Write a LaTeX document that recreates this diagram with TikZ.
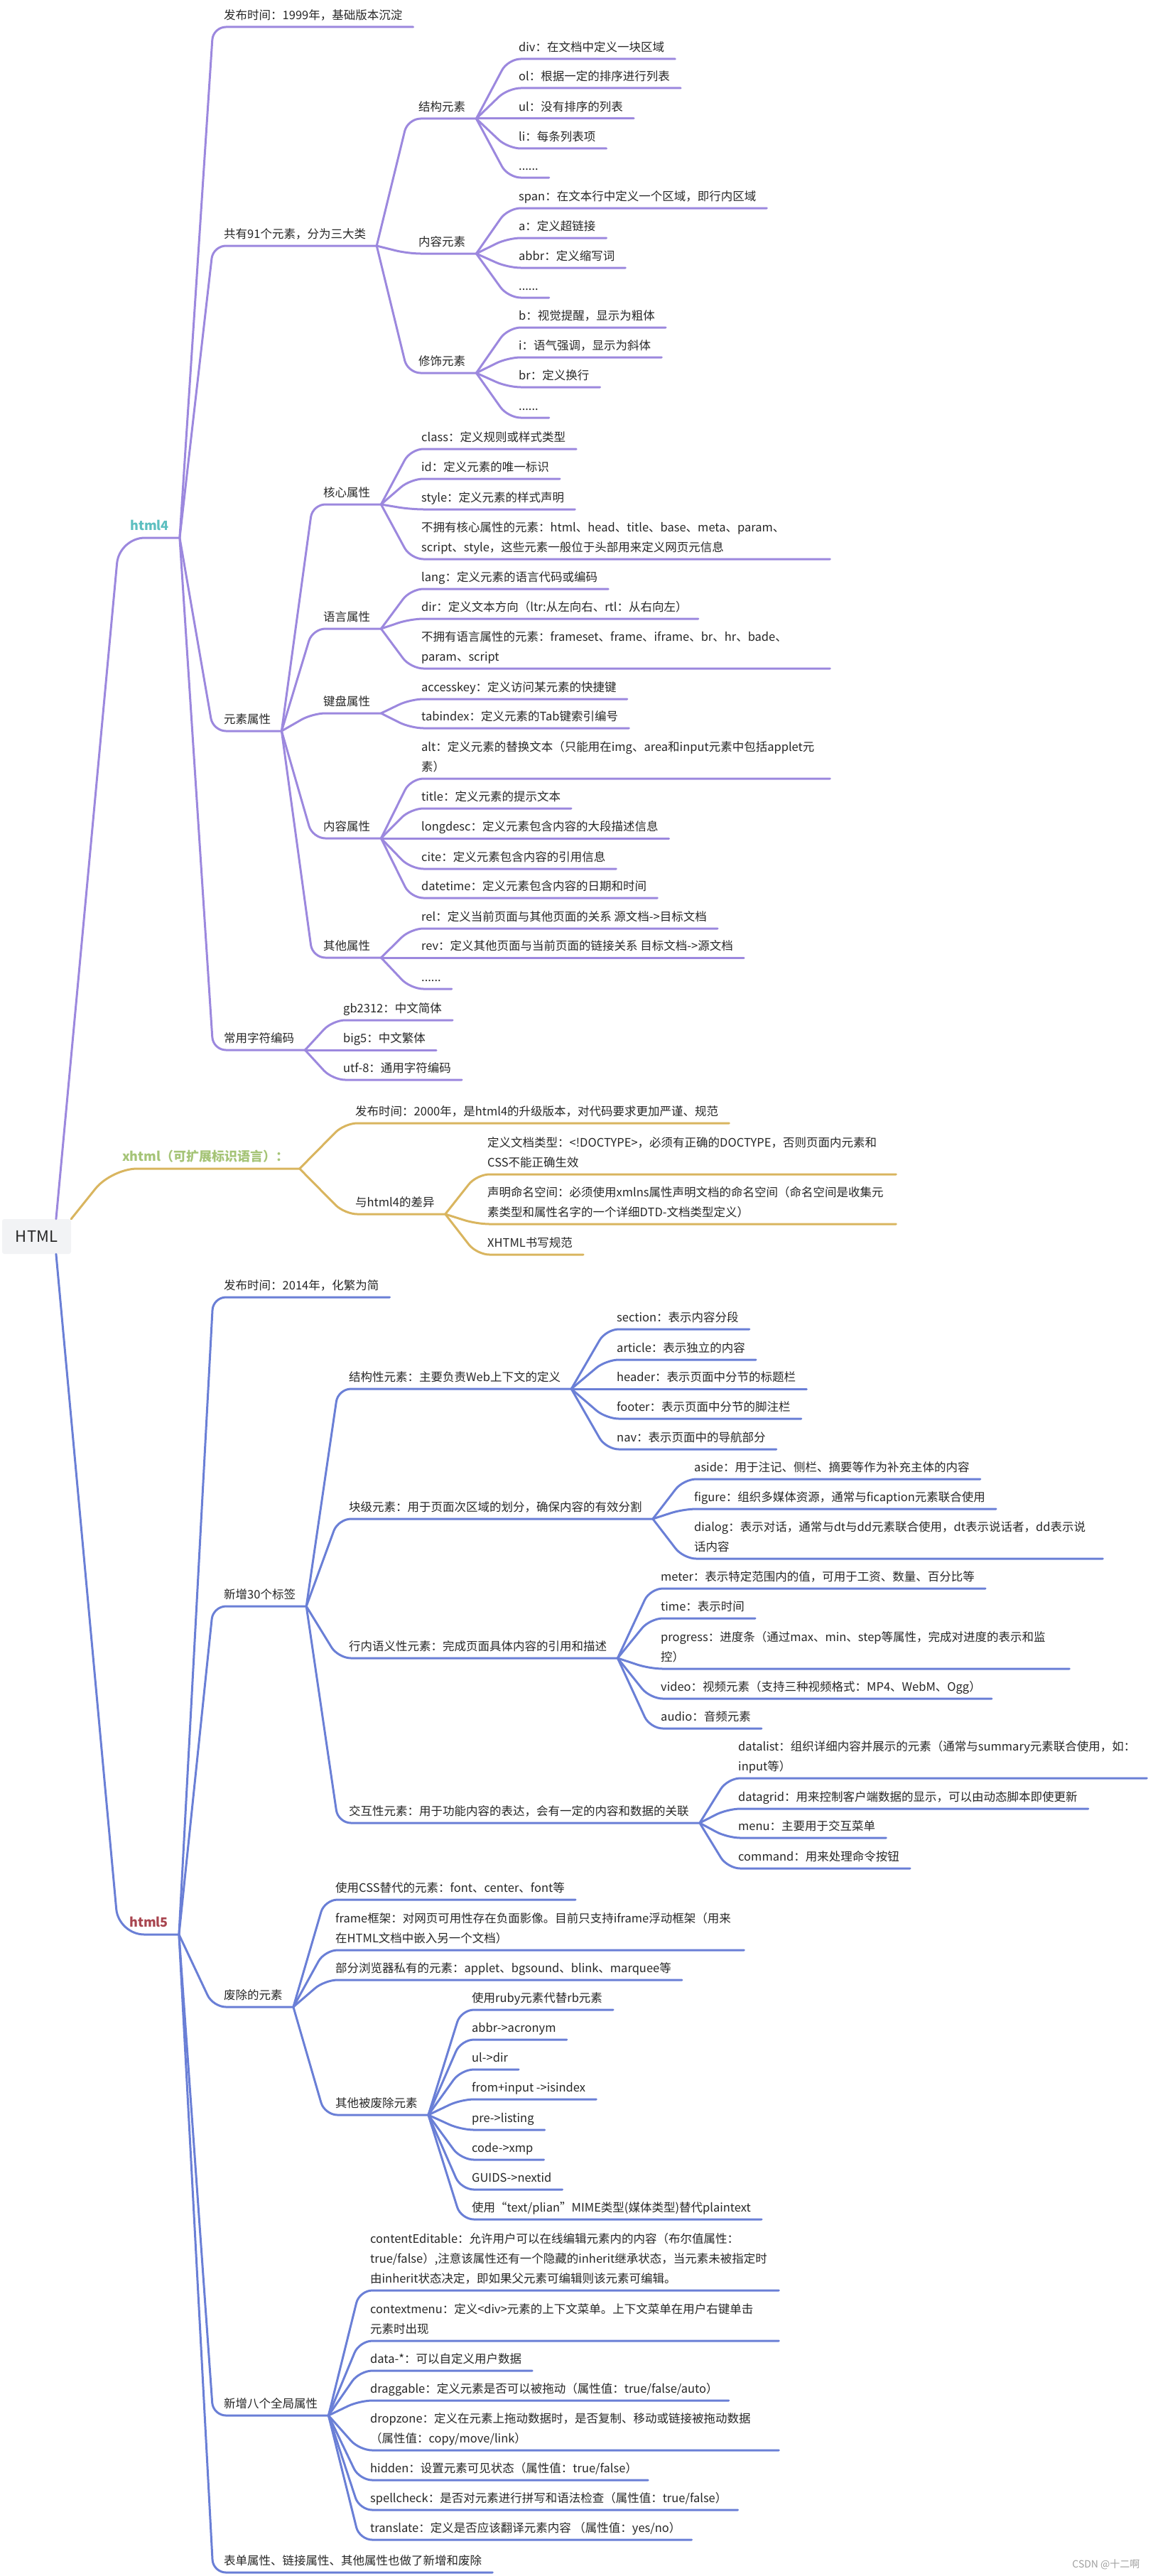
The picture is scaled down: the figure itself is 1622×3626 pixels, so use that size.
\documentclass[tikz,border=0pt]{standalone}
\usepackage{fontspec}
\setmainfont{Noto Sans CJK SC}
\usetikzlibrary{calc}
\definecolor{ink}{HTML}{262626}
\definecolor{line4}{HTML}{9C88DE}
\definecolor{linex}{HTML}{D9B55F}
\definecolor{line5}{HTML}{6A7FD6}
\definecolor{lab4}{HTML}{5DBFC0}
\definecolor{labx}{HTML}{A5C477}
\definecolor{lab5}{HTML}{A8454F}
\definecolor{rootbg}{HTML}{F2F3F5}
\tikzset{
  topic/.style={anchor=south west, inner xsep=15pt, inner ysep=6pt, text depth=4pt,
    font=\fontsize{16.5}{28}\selectfont, text=ink},
  wrap/.style={anchor=south west, inner xsep=15pt, inner ysep=6pt, text width=560pt, align=left,
    font=\fontsize{16.5}{28}\selectfont, text=ink, execute at end node={\rule[-4pt]{0pt}{4pt}}},
  branch/.style={topic, font=\fontsize{18}{24}\selectfont\bfseries, text=#1},
  rootbox/.style={fill=rootbg, rounded corners=3pt, minimum width=97pt, minimum height=49pt,
    inner sep=0pt, font=\fontsize{22}{26}\selectfont, text=ink},
  link/.style={draw=#1, line width=3pt, rounded corners=18pt, line cap=round},
  rootlink/.style={link=#1, rounded corners=36pt},
}

\begin{document}
\begin{tikzpicture}[x=1pt,y=-1pt]
\useasboundingbox (0,0) rectangle (1622,3626);

% root
\node[rootbox] (html) at (51.5,1740.5) {HTML};

% ---------------- html4
\node[branch=lab4] (h4) at (168,757) {html4};
\node[topic] (h4time) at (300,38) {发布时间：1999年，基础版本沉淀};
\node[topic] (h4elem) at (300,346) {共有91个元素，分为三大类};
\node[topic] (struct) at (574,167) {结构元素};
\node[topic] (div) at (715,83) {div：在文档中定义一块区域};
\node[topic] (ol) at (715,124) {ol：根据一定的排序进行列表};
\node[topic] (ul) at (715,167) {ul：没有排序的列表};
\node[topic] (li) at (715,209) {li：每条列表项};
\node[topic] (sdots) at (715,250) {......};
\node[topic] (content) at (574,357) {内容元素};
\node[topic] (span) at (715,293) {span：在文本行中定义一个区域，即行内区域};
\node[topic] (ahref) at (715,335) {a：定义超链接};
\node[topic] (abbr) at (715,377) {abbr：定义缩写词};
\node[topic] (cdots) at (715,419) {......};
\node[topic] (deco) at (574,525) {修饰元素};
\node[topic] (bold) at (715,461) {b：视觉提醒，显示为粗体};
\node[topic] (ital) at (715,503) {i：语气强调，显示为斜体};
\node[topic] (brk) at (715,545) {br：定义换行};
\node[topic] (ddots) at (715,588) {......};

\node[topic] (h4attr) at (300,1029) {元素属性};
\node[topic] (coreattr) at (440,710) {核心属性};
\node[topic] (class) at (578,632) {class：定义规则或样式类型};
\node[topic] (id) at (578,674) {id：定义元素的唯一标识};
\node[topic] (style) at (578,717) {style：定义元素的样式声明};
\node[wrap] (nocore) at (578,787) {不拥有核心属性的元素：html、head、title、base、meta、param、\\script、style，这些元素一般位于头部用来定义网页元信息};
\node[topic] (langattr) at (440,885) {语言属性};
\node[topic] (langl) at (578,829) {lang：定义元素的语言代码或编码};
\node[topic] (dir) at (578,871) {dir：定义文本方向（ltr:从左向右、rtl：从右向左）};
\node[wrap] (nolang) at (578,941) {不拥有语言属性的元素：frameset、frame、iframe、br、hr、bade、\\param、script};
\node[topic] (keyattr) at (440,1004) {键盘属性};
\node[topic] (accesskey) at (578,984) {accesskey：定义访问某元素的快捷键};
\node[topic] (tabindex) at (578,1025) {tabindex：定义元素的Tab键索引编号};
\node[topic] (contattr) at (440,1180) {内容属性};
\node[wrap] (alt) at (578,1096) {alt：定义元素的替换文本（只能用在img、area和input元素中包括applet元\\素）};
\node[topic] (title) at (578,1138) {title：定义元素的提示文本};
\node[topic] (longdesc) at (578,1180) {longdesc：定义元素包含内容的大段描述信息};
\node[topic] (cite) at (578,1223) {cite：定义元素包含内容的引用信息};
\node[topic] (datetime) at (578,1264) {datetime：定义元素包含内容的日期和时间};
\node[topic] (otherattr) at (440,1348) {其他属性};
\node[topic] (rel) at (578,1307) {rel：定义当前页面与其他页面的关系 源文档->目标文档};
\node[topic] (rev) at (578,1348) {rev：定义其他页面与当前页面的链接关系 目标文档->源文档};
\node[topic] (odots) at (578,1392) {......};

\node[topic] (h4code) at (300,1478) {常用字符编码};
\node[topic] (gb) at (468,1436) {gb2312：中文简体};
\node[topic] (big) at (468,1478) {big5：中文繁体};
\node[topic] (utf) at (468,1520) {utf-8：通用字符编码};

% ---------------- xhtml
\node[branch=labx] (xh) at (157,1645) {xhtml（可扩展标识语言）：};
\node[topic] (xhtime) at (485,1581) {发布时间：2000年，是html4的升级版本，对代码要求更加严谨、规范};
\node[topic] (xhdiff) at (485,1709) {与html4的差异};
\node[wrap] (doctype) at (671,1653) {定义文档类型：<!DOCTYPE>，必须有正确的DOCTYPE，否则页面内元素和\\CSS不能正确生效};
\node[wrap] (xmlns) at (671,1723) {声明命名空间：必须使用xmlns属性声明文档的命名空间（命名空间是收集元\\素类型和属性名字的一个详细DTD-文档类型定义）};
\node[topic] (xhspec) at (671,1766) {XHTML书写规范};

% ---------------- html5
\node[branch=lab5] (h5) at (167,2723) {html5};
\node[topic] (h5time) at (300,1826) {发布时间：2014年，化繁为简};
\node[topic] (h5tags) at (300,2261) {新增30个标签};
\node[topic] (structel) at (476,1955) {结构性元素：主要负责Web上下文的定义};
\node[topic] (section) at (853,1871) {section：表示内容分段};
\node[topic] (article) at (853,1914) {article：表示独立的内容};
\node[topic] (header) at (853,1955) {header：表示页面中分节的标题栏};
\node[topic] (footer) at (853,1997) {footer：表示页面中分节的脚注栏};
\node[topic] (nav) at (853,2040) {nav：表示页面中的导航部分};
\node[topic] (blockel) at (476,2138) {块级元素：用于页面次区域的划分，确保内容的有效分割};
\node[topic] (aside) at (962,2082) {aside：用于注记、侧栏、摘要等作为补充主体的内容};
\node[topic] (figure) at (962,2124) {figure：组织多媒体资源，通常与ficaption元素联合使用};
\node[wrap] (dialog) at (962,2194) {dialog：表示对话，通常与dt与dd元素联合使用，dt表示说话者，dd表示说\\话内容};
\node[topic] (inlineel) at (476,2334) {行内语义性元素：完成页面具体内容的引用和描述};
\node[topic] (meter) at (915,2236) {meter：表示特定范围内的值，可用于工资、数量、百分比等};
\node[topic] (time) at (915,2278) {time：表示时间};
\node[wrap] (progress) at (915,2349) {progress：进度条（通过max、min、step等属性，完成对进度的表示和监\\控）};
\node[topic] (video) at (915,2391) {video：视频元素（支持三种视频格式：MP4、WebM、Ogg）};
\node[topic] (audio) at (915,2433) {audio：音频元素};
\node[topic] (interel) at (476,2566) {交互性元素：用于功能内容的表达，会有一定的内容和数据的关联};
\node[wrap] (datalist) at (1024,2503) {datalist：组织详细内容并展示的元素（通常与summary元素联合使用，如：\\input等）};
\node[topic] (datagrid) at (1024,2546) {datagrid：用来控制客户端数据的显示，可以由动态脚本即使更新};
\node[topic] (menu) at (1024,2587) {menu：主要用于交互菜单};
\node[topic] (command) at (1024,2630) {command：用来处理命令按钮};

\node[topic] (h5drop) at (300,2825) {废除的元素};
\node[topic] (cssrep) at (457,2674) {使用CSS替代的元素：font、center、font等};
\node[wrap] (frame) at (457,2745) {frame框架：对网页可用性存在负面影像。目前只支持iframe浮动框架（用来\\在HTML文档中嵌入另一个文档）};
\node[topic] (priv) at (457,2787) {部分浏览器私有的元素：applet、bgsound、blink、marquee等};
\node[topic] (otherdrop) at (457,2977) {其他被废除元素};
\node[topic] (ruby) at (649,2829) {使用ruby元素代替rb元素};
\node[topic] (acronym) at (649,2871) {abbr->acronym};
\node[topic] (uldir) at (649,2913) {ul->dir};
\node[topic] (isindex) at (649,2955) {from+input ->isindex};
\node[topic] (listing) at (649,2998) {pre->listing};
\node[topic] (xmp) at (649,3040) {code->xmp};
\node[topic] (nextid) at (649,3082) {GUIDS->nextid};
\node[topic] (plaintext) at (649,3124) {使用“text/plian”MIME类型(媒体类型)替代plaintext};

\node[topic] (h5global) at (300,3400) {新增八个全局属性};
\node[wrap] (editable) at (506,3224) {contentEditable：允许用户可以在线编辑元素内的内容（布尔值属性：\\true/false）,注意该属性还有一个隐藏的inherit继承状态，当元素未被指定时\\由inherit状态决定，即如果父元素可编辑则该元素可编辑。};
\node[wrap] (ctxmenu) at (506,3295) {contextmenu：定义<div>元素的上下文菜单。上下文菜单在用户右键单击\\元素时出现};
\node[topic] (data) at (506,3337) {data-*：可以自定义用户数据};
\node[topic] (drag) at (506,3379) {draggable：定义元素是否可以被拖动（属性值：true/false/auto）};
\node[wrap] (dropzone) at (506,3449) {dropzone：定义在元素上拖动数据时，是否复制、移动或链接被拖动数据\\（属性值：copy/move/link）};
\node[topic] (hidden) at (506,3491) {hidden：设置元素可见状态（属性值：true/false）};
\node[topic] (spell) at (506,3533) {spellcheck：是否对元素进行拼写和语法检查（属性值：true/false）};
\node[topic] (translate) at (506,3575) {translate：定义是否应该翻译元素内容 （属性值：yes/no）};
\node[topic] (h5form) at (300,3621) {表单属性、链接属性、其他属性也做了新增和废除};

\node[font=\fontsize{14}{16}\selectfont, text=gray!75, anchor=east] (mark) at (1608,3610) {CSDN @十二啊};

% connectors
\draw[rootlink=line4] (html.42) -- (h4.south west) -- (h4.south east);
\draw[rootlink=linex] (html.north east) -- (xh.south west) -- (xh.south east);
\draw[rootlink=line5] (html.-42) -- (h5.south west) -- (h5.south east);

\foreach \c in {h4time,h4elem,h4attr,h4code}
  \draw[link=line4] (h4.south east) -- (\c.south west) -- (\c.south east);
\foreach \c in {struct,content,deco}
  \draw[link=line4] (h4elem.south east) -- (\c.south west) -- (\c.south east);
\foreach \c in {div,ol,ul,li,sdots}
  \draw[link=line4] (struct.south east) -- (\c.south west) -- (\c.south east);
\foreach \c in {span,ahref,abbr,cdots}
  \draw[link=line4] (content.south east) -- (\c.south west) -- (\c.south east);
\foreach \c in {bold,ital,brk,ddots}
  \draw[link=line4] (deco.south east) -- (\c.south west) -- (\c.south east);
\foreach \c in {coreattr,langattr,keyattr,contattr,otherattr}
  \draw[link=line4] (h4attr.south east) -- (\c.south west) -- (\c.south east);
\foreach \c in {class,id,style,nocore}
  \draw[link=line4] (coreattr.south east) -- (\c.south west) -- (\c.south east);
\foreach \c in {langl,dir,nolang}
  \draw[link=line4] (langattr.south east) -- (\c.south west) -- (\c.south east);
\foreach \c in {accesskey,tabindex}
  \draw[link=line4] (keyattr.south east) -- (\c.south west) -- (\c.south east);
\foreach \c in {alt,title,longdesc,cite,datetime}
  \draw[link=line4] (contattr.south east) -- (\c.south west) -- (\c.south east);
\foreach \c in {rel,rev,odots}
  \draw[link=line4] (otherattr.south east) -- (\c.south west) -- (\c.south east);
\foreach \c in {gb,big,utf}
  \draw[link=line4] (h4code.south east) -- (\c.south west) -- (\c.south east);

\foreach \c in {xhtime,xhdiff}
  \draw[link=linex] (xh.south east) -- (\c.south west) -- (\c.south east);
\foreach \c in {doctype,xmlns,xhspec}
  \draw[link=linex] (xhdiff.south east) -- (\c.south west) -- (\c.south east);

\foreach \c in {h5time,h5tags,h5drop,h5global,h5form}
  \draw[link=line5] (h5.south east) -- (\c.south west) -- (\c.south east);
\foreach \c in {structel,blockel,inlineel,interel}
  \draw[link=line5] (h5tags.south east) -- (\c.south west) -- (\c.south east);
\foreach \c in {section,article,header,footer,nav}
  \draw[link=line5] (structel.south east) -- (\c.south west) -- (\c.south east);
\foreach \c in {aside,figure,dialog}
  \draw[link=line5] (blockel.south east) -- (\c.south west) -- (\c.south east);
\foreach \c in {meter,time,progress,video,audio}
  \draw[link=line5] (inlineel.south east) -- (\c.south west) -- (\c.south east);
\foreach \c in {datalist,datagrid,menu,command}
  \draw[link=line5] (interel.south east) -- (\c.south west) -- (\c.south east);
\foreach \c in {cssrep,frame,priv,otherdrop}
  \draw[link=line5] (h5drop.south east) -- (\c.south west) -- (\c.south east);
\foreach \c in {ruby,acronym,uldir,isindex,listing,xmp,nextid,plaintext}
  \draw[link=line5] (otherdrop.south east) -- (\c.south west) -- (\c.south east);
\foreach \c in {editable,ctxmenu,data,drag,dropzone,hidden,spell,translate}
  \draw[link=line5] (h5global.south east) -- (\c.south west) -- (\c.south east);
\end{tikzpicture}
\end{document}
